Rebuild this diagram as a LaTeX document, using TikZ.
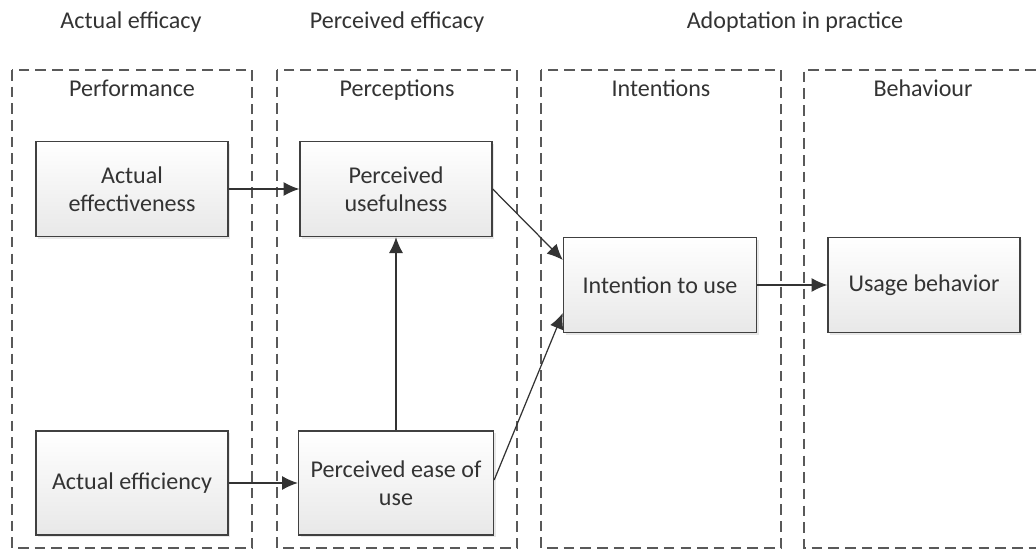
\documentclass[tikz,border=0pt]{standalone}
\usepackage{fontspec}
\setmainfont{Carlito}
\usetikzlibrary{arrows.meta,shadows}

\tikzset{
	stage/.style={draw=black!65, line width=0.8pt, dash pattern=on 6pt off 3.5pt},
	factor/.style={draw=black!75, line width=0.8pt, rectangle, align=center,
		top color=white, bottom color=black!9, text=black!80,
		minimum width=3.84cm, minimum height=1.9cm,
		drop shadow={opacity=0.18, shadow xshift=1.2pt, shadow yshift=-1.2pt}},
	link/.style={draw=black!80, line width=0.7pt, -{Latex[length=9pt,width=8pt]}},
	caption/.style={text=black!80, text height=1.6ex, text depth=0.4ex}
}

\begin{document}
\begin{tikzpicture}[x=0.02cm,y=-0.02cm,font=\fontsize{13.7}{16}\selectfont]
			\useasboundingbox (0,0) rectangle (1036,550);
			
			% headings
			\node[caption] (hActual) at (131,23) {Actual efficacy};
			\node[caption] (hPerceived) at (397,23) {Perceived efficacy};
			\node[caption] (hAdopt) at (795,23) {Adoptation in practice};
			
			% stages
			\draw[stage] (12,70) rectangle (252,548);
			\draw[stage] (277,70) rectangle (517,548);
			\draw[stage] (541,70) rectangle (781,548);
			\draw[stage] (1036,70) -- (804,70) -- (804,548) -- (1036,548);
			\node[caption] (sPerf) at (132,91) {Performance};
			\node[caption] (sPerc) at (397,91) {Perceptions};
			\node[caption] (sInt) at (661,91) {Intentions};
			\node[caption] (sBeh) at (923,91) {Behaviour};
			
			% factors
			\node[factor] (effect) at (132,189) {Actual\\effectiveness};
			\node[factor] (useful) at (396,189) {Perceived\\usefulness};
			\node[factor, minimum height=2.08cm] (effic) at (132,483) {Actual efficiency};
			\node[factor, minimum height=2.08cm, minimum width=3.9cm] (ease) at (396,483) {Perceived ease of\\use};
			\node[factor, minimum width=3.86cm] (intent) at (660,285) {Intention to use};
			\node[factor] (usage) at (924,285) {Usage behavior};
			
			\draw[link] (effect) -- (useful);
			\draw[link] (effic) -- (ease);
			\draw[link] (ease) -- (useful);
			\draw[link] (useful.east) -- ([yshift=0.5cm]intent.west);
			\draw[link] ([yshift=0.06cm]ease.east) -- ([yshift=-0.56cm]intent.west);
			\draw[link] (intent) -- (usage);
\end{tikzpicture}
\end{document}
